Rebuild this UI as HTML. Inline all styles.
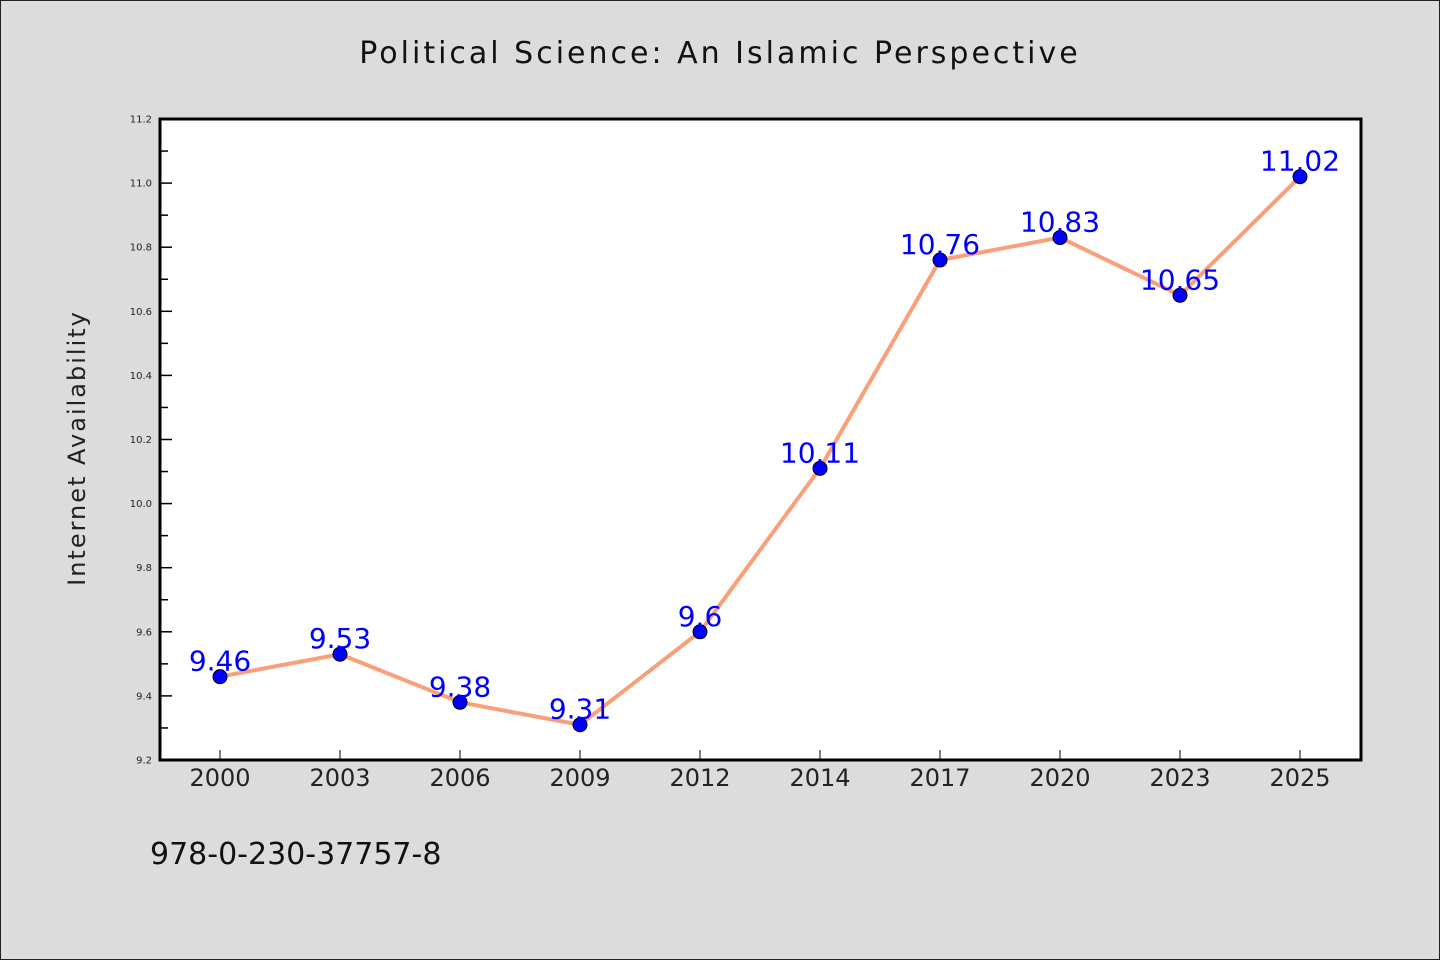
<!DOCTYPE html>
<html><head><meta charset="utf-8"><style>
body{margin:0;background:#dcdcdc;}
#fig{position:relative;width:1438px;height:958px;border:1px solid #222;background:#dcdcdc;}
svg text{font-family:"DejaVu Sans","Liberation Sans",sans-serif;}
</style></head><body>
<div id="fig">
<svg id="chart" width="1440" height="960" style="position:absolute;left:-1px;top:-1px"></svg>
</div>
<script>
const categories=["2000","2003","2006","2009","2012","2014","2017","2020","2023","2025"];
const values=[9.46,9.53,9.38,9.31,9.6,10.11,10.76,10.83,10.65,11.02];
const yTicks=[9.2,9.4,9.6,9.8,10.0,10.2,10.4,10.6,10.8,11.0,11.2];
const labels=["9.46","9.53","9.38","9.31","9.6","10.11","10.76","10.83","10.65","11.02"];
const NS="http://www.w3.org/2000/svg";
const svg=document.getElementById('chart');
const L=160,R=1361,T=119,B=760,ymin=9.2,ymax=11.2;
function y(v){return B-(v-ymin)/(ymax-ymin)*(B-T);}
function x(i){return 220+i*120;}
function mk(tag,attrs,parent){const e=document.createElementNS(NS,tag);for(const k in attrs)e.setAttribute(k,attrs[k]);(parent||svg).appendChild(e);return e;}
let t=mk('text',{x:720,y:63,'text-anchor':'middle','font-size':30,fill:'#111','letter-spacing':'3'});

t.textContent='Political Science: An Islamic Perspective';
let bg=mk('rect',{x:L,y:T,width:R-L,height:B-T,fill:'#fff'});

yTicks.forEach((v,i)=>{
 let tk=mk('line',{x1:L,x2:L+12,y1:y(v),y2:y(v),stroke:'#000','stroke-width':1.5});
 
 if(i<yTicks.length-1){let mv=v+0.1;let m=mk('line',{x1:L,x2:L+8,y1:y(mv),y2:y(mv),stroke:'#000','stroke-width':1.5});
 }
 let lb=mk('text',{x:L-8,y:y(v)+3.5,'text-anchor':'end','font-size':10,fill:'#222'});
 
 lb.textContent=v.toFixed(1);
});
categories.forEach((c,i)=>{
 let tk=mk('line',{x1:x(i),x2:x(i),y1:B,y2:B-10,stroke:'#000','stroke-width':1});
 
 let lb=mk('text',{x:x(i),y:786,'text-anchor':'middle','font-size':24,fill:'#222'});
 
 lb.textContent=c;
});
let fr=mk('rect',{x:L,y:T,width:R-L,height:B-T,fill:'none',stroke:'#000','stroke-width':3});

let pl=mk('polyline',{points:values.map((v,i)=>x(i)+','+y(v)).join(' '),fill:'none',stroke:'#f9a07a','stroke-width':4,'stroke-linejoin':'round'});

values.forEach((v,i)=>{
 let c=mk('circle',{cx:x(i),cy:y(v),r:7,fill:'#0000ff',stroke:'#000','stroke-width':1});
 
 let lb=mk('text',{x:x(i),y:y(v)-6,'text-anchor':'middle','font-size':28,fill:'#0000ff'});
 
 lb.textContent=labels[i];
});
let yt=mk('text',{x:0,y:0,transform:'translate(85,448) rotate(-90)','text-anchor':'middle','font-size':24,fill:'#222','letter-spacing':'2'});

yt.textContent='Internet Availability';
let isbn=mk('text',{x:150,y:864,'font-size':30,fill:'#111'});

isbn.textContent='978-0-230-37757-8';
</script>
</body></html>
